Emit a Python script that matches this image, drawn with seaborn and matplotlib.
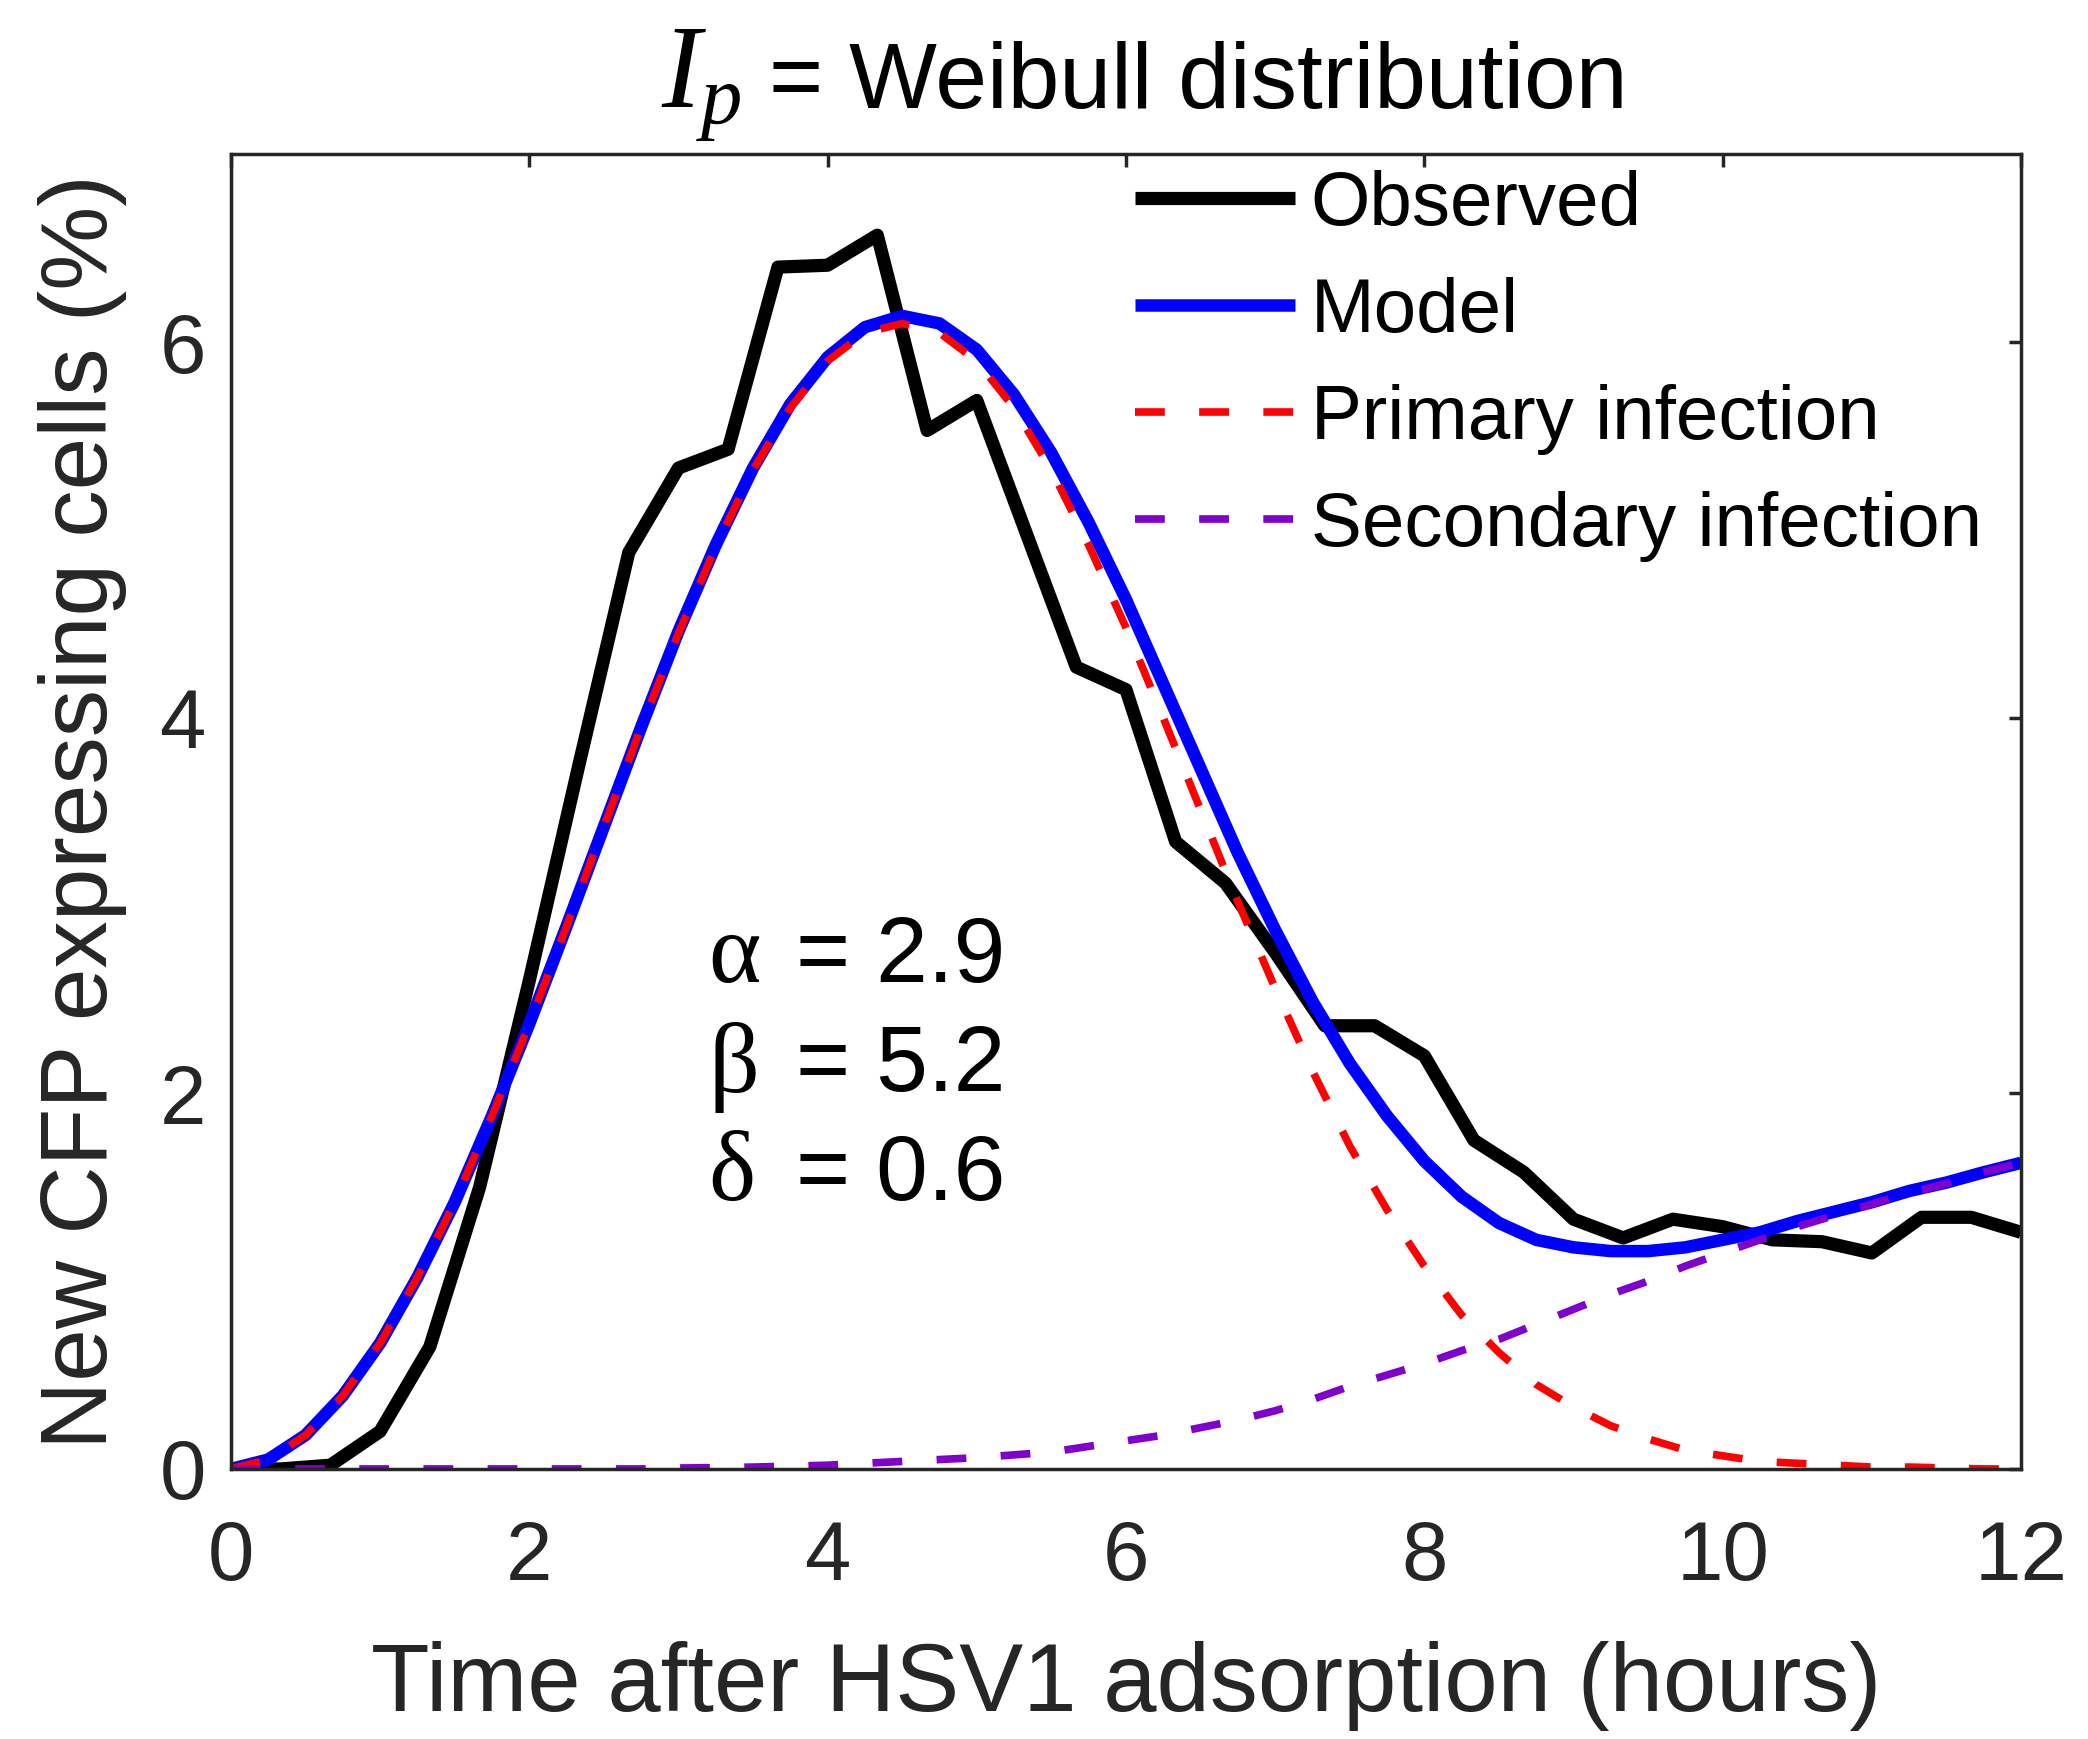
import numpy as np
import pandas as pd
import matplotlib
matplotlib.use("Agg")
import matplotlib.pyplot as plt
import seaborn as sns

# ---------------- data ----------------
obs_time = [0, 0.333, 0.667, 1.0, 1.333, 1.667, 2.0, 2.333, 2.667, 3.0, 3.333, 3.667,
            4.0, 4.333, 4.667, 5.0, 5.333, 5.667, 6.0, 6.333, 6.667, 7.0, 7.333, 7.667,
            8.0, 8.333, 8.667, 9.0, 9.333, 9.667, 10.0, 10.333, 10.667, 11.0, 11.333,
            11.667, 12.0]
observed = [0.0, 0.0, 0.02, 0.2, 0.65, 1.5, 2.6, 3.75, 4.88, 5.33, 5.43, 6.4,
            6.41, 6.57, 5.53, 5.69, 4.98, 4.27, 4.15, 3.34, 3.12, 2.75, 2.36, 2.36,
            2.2, 1.75, 1.58, 1.33, 1.23, 1.33, 1.29, 1.22, 1.21, 1.15, 1.34,
            1.34, 1.26]

model_time = [0, 0.25, 0.5, 0.75, 1.0, 1.25, 1.5, 1.75, 2.0, 2.25, 2.5, 2.75, 3.0,
              3.25, 3.5, 3.75, 4.0, 4.25, 4.5, 4.75, 5.0, 5.25, 5.5, 5.75, 6.0,
              6.25, 6.5, 6.75, 7.0, 7.25, 7.5, 7.75, 8.0, 8.25, 8.5, 8.75, 9.0,
              9.25, 9.5, 9.75, 10.0, 10.25, 10.5, 10.75, 11.0, 11.25, 11.5, 11.75, 12.0]
model = [0.0, 0.05, 0.18, 0.39, 0.67, 1.02, 1.42, 1.88, 2.37, 2.89, 3.42, 3.95, 4.46,
         4.92, 5.33, 5.67, 5.92, 6.08, 6.14, 6.10, 5.96, 5.72, 5.41, 5.04, 4.63,
         4.18, 3.73, 3.28, 2.87, 2.49, 2.16, 1.88, 1.64, 1.45, 1.31, 1.22, 1.18,
         1.16, 1.16, 1.18, 1.22, 1.26, 1.32, 1.37, 1.42, 1.48, 1.525, 1.58, 1.63]
primary = [0.0, 0.05, 0.18, 0.39, 0.67, 1.02, 1.42, 1.88, 2.37, 2.89, 3.42, 3.95, 4.45,
           4.91, 5.32, 5.65, 5.90, 6.05, 6.10, 6.05, 5.90, 5.65, 5.32, 4.92, 4.48,
           4.00, 3.51, 3.02, 2.56, 2.12, 1.72, 1.38, 1.08, 0.82, 0.62, 0.45, 0.33,
           0.23, 0.16, 0.10, 0.07, 0.04, 0.03, 0.02, 0.01, 0.01, 0.005, 0.0, 0.0]
secondary = [0.0, 0.0, 0.0, 0.0, 0.0, 0.0, 0.0, 0.0, 0.0, 0.0, 0.0, 0.0, 0.005,
             0.007, 0.01, 0.015, 0.02, 0.03, 0.04, 0.05, 0.06, 0.075, 0.09, 0.12, 0.15,
             0.18, 0.22, 0.26, 0.31, 0.37, 0.44, 0.50, 0.56, 0.63, 0.69, 0.77, 0.85,
             0.93, 1.00, 1.08, 1.15, 1.22, 1.29, 1.35, 1.41, 1.47, 1.52, 1.58, 1.63]

series_labels = ["Observed", "Model", "Primary infection", "Secondary infection"]
x_ticks = [0, 2, 4, 6, 8, 10, 12]
y_ticks = [0, 2, 4, 6]
param_symbols = ["\u03b1", "\u03b2", "\u03b4"]
param_values = ["= 2.9", "= 5.2", "= 0.6"]

# ---------------- style ----------------
sns.set_style("white")
plt.rcParams["font.family"] = ["Liberation Sans", "DejaVu Sans"]
plt.rcParams["mathtext.fontset"] = "custom"
plt.rcParams["mathtext.rm"] = "Liberation Serif"
plt.rcParams["mathtext.it"] = "Liberation Serif:italic"
plt.rcParams["mathtext.bf"] = "Liberation Serif:bold"

fig = plt.figure(figsize=(20.88, 17.39), dpi=100)
ax = fig.add_axes([0.1106, 0.1553, 0.8573, 0.7559])

df_obs = pd.DataFrame({"t": obs_time, "v": observed})
df_mod = pd.DataFrame({"t": model_time, "model": model, "primary": primary,
                       "secondary": secondary})

styles = [
    dict(color="black", linewidth=9.5, linestyle="-"),
    dict(color="#0000FF", linewidth=9.0, linestyle="-"),
    dict(color="#FF0000", linewidth=5.5, linestyle=(0, (3.9, 4.5))),
    dict(color="#8000CC", linewidth=5.5, linestyle=(0, (3.9, 4.5))),
]

sns.lineplot(data=df_obs, x="t", y="v", ax=ax, label=series_labels[0],
             estimator=None, sort=False, **styles[0])
sns.lineplot(data=df_mod, x="t", y="model", ax=ax, label=series_labels[1],
             estimator=None, sort=False, **styles[1])
sns.lineplot(data=df_mod, x="t", y="primary", ax=ax, label=series_labels[2],
             estimator=None, sort=False, **styles[2])
sns.lineplot(data=df_mod, x="t", y="secondary", ax=ax, label=series_labels[3],
             estimator=None, sort=False, **styles[3])

# enforce the line styles on the drawn lines
for line, st in zip(ax.get_lines(), styles):
    line.set_linewidth(st["linewidth"])
    line.set_linestyle(st["linestyle"])
    line.set_color(st["color"])
    line.set_solid_capstyle("butt")
    line.set_dash_capstyle("butt")

ax.set_xlim(0, 12)
ax.set_ylim(0, 7)
ax.set_xticks(x_ticks)
ax.set_yticks(y_ticks)
ax.tick_params(axis="both", direction="in", length=9, width=2.5, colors="#262626",
               labelsize=60, top=True, right=True)
ax.tick_params(axis="x", pad=36)
ax.tick_params(axis="y", pad=18)
for sp in ax.spines.values():
    sp.set_visible(True)
    sp.set_color("#262626")
    sp.set_linewidth(2.5)

ax.set_xlabel("Time after HSV1 adsorption (hours)", fontsize=69, color="#262626",
              labelpad=32)
ax.set_ylabel("New CFP expressing cells (%)", fontsize=68, color="#262626")
ax.yaxis.set_label_coords(-0.058, 0.5)

# title: large serif italic I_p followed by sans text
ax.text(0.240, 1.0357, r"$I_p$", transform=ax.transAxes, fontsize=85,
        ha="left", va="baseline", color="black")
ax.text(0.3007, 1.0357, "= Weibull distribution", transform=ax.transAxes,
        fontsize=67, ha="left", va="baseline", color="black")

for i, (sym, val) in enumerate(zip(param_symbols, param_values)):
    yv = 2.72 - i * 0.58
    ax.text(3.2, yv, sym, fontsize=72, color="black", va="center", ha="left",
            family=["Liberation Serif", "DejaVu Serif"])
    ax.text(3.79, yv, val, fontsize=67, color="black", va="center", ha="left")

leg = ax.legend(loc="upper left", bbox_to_anchor=(0.505, 0.988), frameon=False,
                fontsize=55, handlelength=2.1, handletextpad=0.2, labelspacing=0.47,
                borderpad=0.0, borderaxespad=0.0)
for h, st in zip(leg.get_lines(), styles):
    h.set_linewidth(st["linewidth"])
    h.set_linestyle(st["linestyle"])
    h.set_color(st["color"])
for txt in leg.get_texts():
    txt.set_color("black")

fig.savefig("out.png", dpi=100, facecolor="white")
